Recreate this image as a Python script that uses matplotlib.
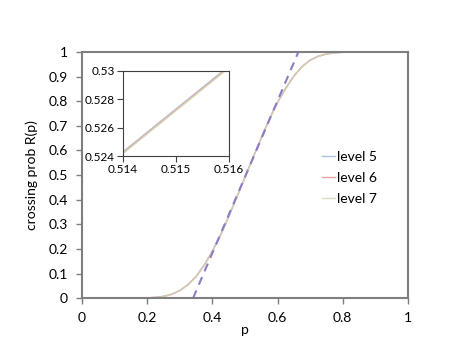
import matplotlib.pyplot as plt

plt.rcParams['font.family'] = ['Lato', 'DejaVu Sans']

# crossing probability
p = [0.0, 0.025, 0.05, 0.075, 0.1, 0.125, 0.15, 0.175, 0.2, 0.225, 0.25, 0.275,
     0.3, 0.325, 0.35, 0.375, 0.4, 0.425, 0.45, 0.475, 0.5, 0.525, 0.55, 0.575,
     0.6, 0.625, 0.65, 0.675, 0.7, 0.725, 0.75, 0.775, 0.8, 0.825, 0.85, 0.875,
     0.9, 0.925, 0.95, 0.975, 1.0]
level5 = [0, 0, 0, 0, 0, 0, 0, 0, 0.001, 0.003, 0.007, 0.016,
          0.031, 0.055, 0.088, 0.134, 0.192, 0.257, 0.332, 0.411, 0.491, 0.572, 0.651, 0.729,
          0.796, 0.853, 0.903, 0.941, 0.967, 0.983, 0.992, 0.997, 0.999, 1, 1, 1,
          1, 1, 1, 1, 1]
level6 = [0, 0, 0, 0, 0, 0, 0, 0, 0.001, 0.003, 0.007, 0.015,
          0.030, 0.054, 0.087, 0.133, 0.190, 0.255, 0.330, 0.410, 0.490, 0.571, 0.650, 0.727,
          0.795, 0.852, 0.902, 0.940, 0.967, 0.983, 0.992, 0.997, 0.999, 1, 1, 1,
          1, 1, 1, 1, 1]
level7 = [0, 0, 0, 0, 0, 0, 0, 0, 0.001, 0.002, 0.006, 0.015,
          0.030, 0.053, 0.086, 0.132, 0.189, 0.254, 0.329, 0.409, 0.489, 0.570, 0.649, 0.726,
          0.794, 0.851, 0.901, 0.940, 0.966, 0.982, 0.992, 0.997, 0.999, 1, 1, 1,
          1, 1, 1, 1, 1]

# linear approximation (dashed)
lin_p = [0.341, 0.664]
lin_r = [0.0, 1.0]

# zoomed-in detail
p_zoom = [0.514, 0.515, 0.516]
zoom5 = [0.52430, 0.52732, 0.53034]
zoom6 = [0.52424, 0.52726, 0.53028]
zoom7 = [0.52418, 0.52720, 0.53022]

xticks = [0, 0.2, 0.4, 0.6, 0.8, 1]
xlabels = ['0', '0.2', '0.4', '0.6', '0.8', '1']
yticks = [0, 0.1, 0.2, 0.3, 0.4, 0.5, 0.6, 0.7, 0.8, 0.9, 1]
ylabels = ['0', '0.1', '0.2', '0.3', '0.4', '0.5', '0.6', '0.7', '0.8', '0.9', '1']

c5 = '#a9c3e2'
c6 = '#e9a3a3'
c7 = '#d2d6b4'
spine_col = '#7f7f7f'

fig = plt.figure(figsize=(4.71, 3.64), dpi=100)
ax = fig.add_axes([0.174, 0.181, 0.692, 0.676])

ax.plot(p, level5, color=c5, lw=1.0, label='level 5')
ax.plot(p, level6, color=c6, lw=1.0, label='level 6')
ax.plot(p, level7, color=c7, lw=1.0, alpha=0.8, label='level 7')
ax.plot(lin_p, lin_r, color='#8c7cc6', lw=1.5, ls=(0, (4, 3)))

ax.set_xlim(0, 1)
ax.set_ylim(0, 1)
ax.set_xticks(xticks)
ax.set_xticklabels(xlabels)
ax.set_yticks(yticks)
ax.set_yticklabels(ylabels)
ax.tick_params(direction='out', length=4, width=1, color=spine_col, labelsize=10, pad=6)
for s in ax.spines.values():
    s.set_color(spine_col)
    s.set_linewidth(1.5)
ax.set_xlabel('p', fontsize=10, labelpad=0)
ax.set_ylabel('crossing prob R(p)', fontsize=10, labelpad=8)

ax.legend(loc='upper left', bbox_to_anchor=(0.72, 0.62), frameon=False,
          fontsize=10, handlelength=0.9, handletextpad=0.2, labelspacing=0.65,
          borderaxespad=0)

# inset
ins = fig.add_axes([0.261, 0.571, 0.225, 0.234])
ins.plot(p_zoom, zoom5, color=c5, lw=1.0)
ins.plot(p_zoom, zoom6, color=c6, lw=1.0)
ins.plot(p_zoom, zoom7, color=c7, lw=1.0)
ins.set_xlim(0.514, 0.516)
ins.set_ylim(0.524, 0.53)
ins.set_xticks([0.514, 0.515, 0.516])
ins.set_xticklabels(['0.514', '0.515', '0.516'])
ins.set_yticks([0.524, 0.526, 0.528, 0.53])
ins.set_yticklabels(['0.524', '0.526', '0.528', '0.53'])
ins.tick_params(direction='out', length=4, width=0.8, color='#404040', labelsize=8.5, pad=2)
for s in ins.spines.values():
    s.set_color('#404040')
    s.set_linewidth(0.8)

fig.savefig('out.png', dpi=100)
